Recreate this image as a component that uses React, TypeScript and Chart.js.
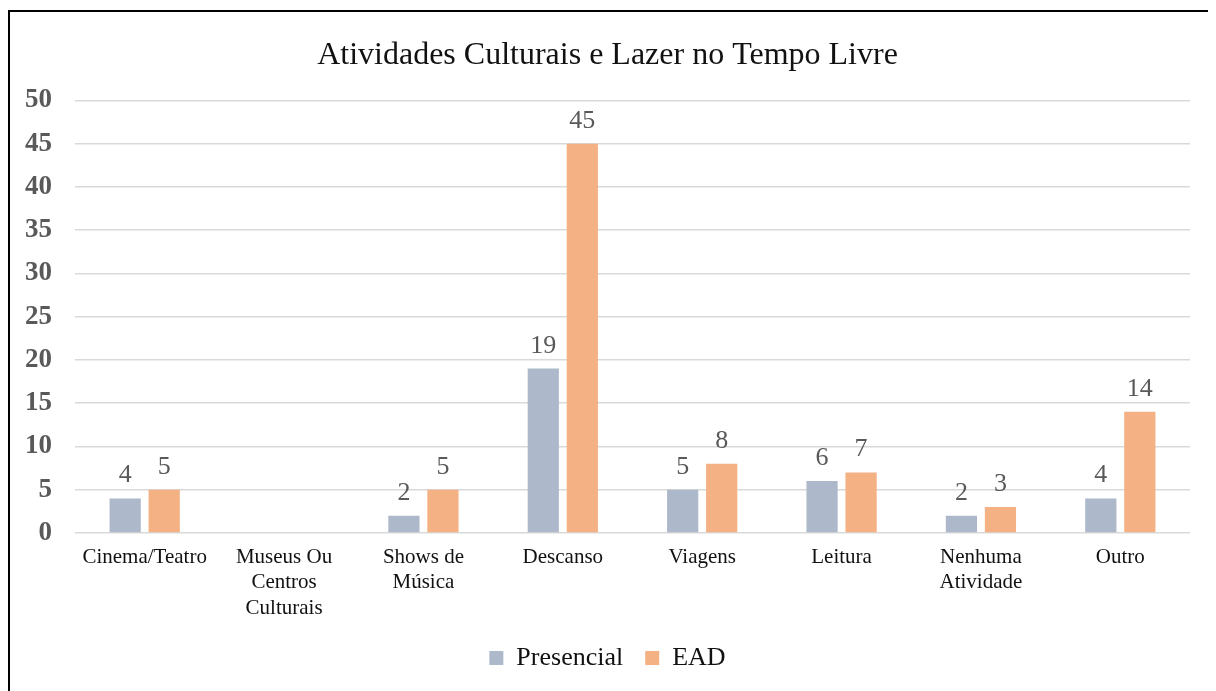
import React, { useEffect, useRef } from "react";
import { Chart, registerables } from "chart.js";

Chart.register(...registerables);

const categories: (string | string[])[] = [
  "Cinema/Teatro",
  ["Museus Ou", "Centros", "Culturais"],
  ["Shows de", "Música"],
  "Descanso",
  "Viagens",
  "Leitura",
  ["Nenhuma", "Atividade"],
  "Outro",
];
const presencial: (number | null)[] = [4, null, 2, 19, 5, 6, 2, 4];
const ead: (number | null)[] = [5, null, 5, 45, 8, 7, 3, 14];
const yTicks = [0, 5, 10, 15, 20, 25, 30, 35, 40, 45, 50];

const FONT = '"Liberation Serif", "Times New Roman", serif';

const dataLabelPlugin = {
  id: "dataLabels",
  afterDatasetsDraw(chart: any) {
    const ctx = chart.ctx;
    ctx.save();
    ctx.font = `26px ${FONT}`;
    ctx.fillStyle = "#595959";
    ctx.textAlign = "center";
    ctx.textBaseline = "alphabetic";
    chart.data.datasets.forEach((ds: any, di: number) => {
      const meta = chart.getDatasetMeta(di);
      meta.data.forEach((bar: any, i: number) => {
        const v = ds.data[i];
        if (v === null || v === undefined) return;
        ctx.fillText(String(v), bar.x, bar.y - 16);
      });
    });
    ctx.restore();
  },
};

export default function App() {
  const ref = useRef<HTMLCanvasElement>(null);
  useEffect(() => {
    if (!ref.current) return;
    const chart = new Chart(ref.current, {
      type: "bar",
      data: {
        labels: categories,
        datasets: [
          {
            label: "Presencial",
            data: presencial,
            backgroundColor: "#adb9ca",
            categoryPercentage: 0.56,
            barPercentage: 0.8,
          },
          {
            label: "EAD",
            data: ead,
            backgroundColor: "#f4b183",
            categoryPercentage: 0.56,
            barPercentage: 0.8,
          },
        ],
      },
      options: {
        animation: false,
        responsive: false,
        maintainAspectRatio: false,
        layout: { padding: { left: 15, right: 26, top: 24, bottom: 10 } },
        plugins: {
          title: {
            display: true,
            text: "Atividades Culturais e Lazer no Tempo Livre",
            color: "#111",
            font: { family: FONT, size: 32, weight: "normal" },
            padding: { top: 0, bottom: 26 },
          },
          legend: {
            display: true,
            position: "bottom",
            labels: {
              color: "#111",
              font: { family: FONT, size: 26 },
              boxWidth: 14,
              boxHeight: 14,
              padding: 22,
            },
          },
          tooltip: { enabled: false },
        },
        scales: {
          x: {
            grid: { display: false, drawTicks: false },
            border: { display: false },
            ticks: {
              color: "#111",
              font: { family: FONT, size: 21 },
              padding: 12,
              maxRotation: 0,
              autoSkip: false,
            },
            afterFit(scale: any) {
              scale.height = 90;
            },
          },
          y: {
            min: 0,
            max: 50,
            afterBuildTicks(scale: any) {
              scale.ticks = yTicks.map((v) => ({ value: v }));
            },
            afterFit(scale: any) {
              scale.width = 50;
            },
            grid: { color: "#d9d9d9", lineWidth: 1.5, drawTicks: false },
            border: { display: false },
            ticks: {
              color: "#595959",
              font: { family: FONT, size: 27, weight: "bold" },
              padding: 23,
            },
          },
        },
      },
      plugins: [dataLabelPlugin],
    });
    return () => chart.destroy();
  }, []);
  return (
    <div
      style={{
        marginTop: 2,
        width: 1206,
        height: 679,
        borderLeft: "2px solid #000",
        borderTop: "2px solid #000",
        background: "#fff",
      }}
    >
      <canvas ref={ref} width={1206} height={679} style={{ display: "block" }} />
    </div>
  );
}
